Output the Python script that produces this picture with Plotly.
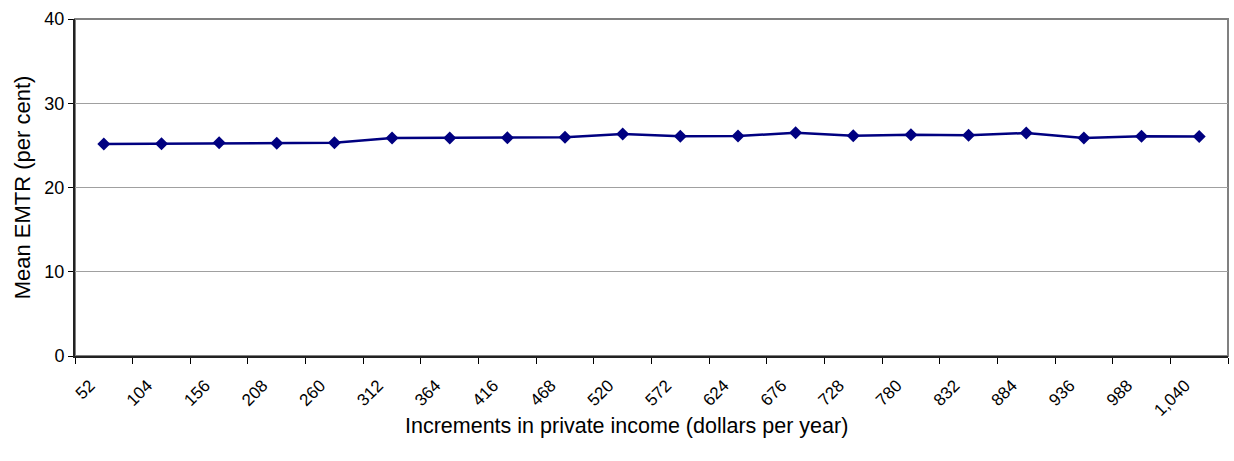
import plotly.graph_objects as go

# Increments in private income (dollars per year)
increments = ["52", "104", "156", "208", "260", "312", "364", "416", "468", "520",
              "572", "624", "676", "728", "780", "832", "884", "936", "988", "1,040"]

# Mean effective marginal tax rate (per cent)
mean_emtr = [25.17, 25.20, 25.30, 25.25, 25.30, 25.88, 25.88, 25.90, 25.96, 26.35,
             26.08, 26.10, 26.50, 26.15, 26.27, 26.20, 26.47, 25.88, 26.08, 26.04]

y_ticks = [0, 10, 20, 30, 40]

FONT = "Liberation Sans, Arial, sans-serif"

fig = go.Figure()
fig.add_trace(go.Scatter(
    x=increments,
    y=mean_emtr,
    mode="lines+markers",
    line=dict(color="#000080", width=2.5),
    marker=dict(symbol="diamond", size=10, color="#000080"),
    showlegend=False,
))

fig.update_layout(
    width=1234,
    height=461,
    margin=dict(l=75, r=6, t=19, b=105),
    paper_bgcolor="white",
    plot_bgcolor="white",
    font=dict(family=FONT, color="black", size=17),
    shapes=[dict(
        type="rect", xref="paper", yref="paper", x0=0, x1=1, y0=0, y1=1,
        line=dict(color="#808080", width=2), layer="below",
    )],
    annotations=[dict(
        text="Increments in private income (dollars per year)",
        xref="paper", yref="paper", x=0.478, y=-0.208,
        xanchor="center", yanchor="middle", showarrow=False,
        font=dict(size=21.5),
    )],
)

fig.update_xaxes(
    type="category",
    range=[-0.5, len(increments) - 0.5],
    tickson="boundaries",
    ticks="outside",
    ticklen=6,
    tickwidth=1,
    tickcolor="black",
    tickangle=-45,
    tickfont=dict(size=17),
    ticklabelshift=-14,
    ticklabelstandoff=11,
    showline=True,
    linecolor="#222222",
    linewidth=2,
    showgrid=False,
    zeroline=False,
)

fig.update_yaxes(
    range=[0, 40],
    tickvals=y_ticks,
    ticks="outside",
    ticklen=5,
    tickwidth=1,
    tickcolor="black",
    tickfont=dict(size=18),
    showline=True,
    linecolor="#222222",
    linewidth=2,
    showgrid=True,
    gridcolor="#a0a0a0",
    gridwidth=1,
    zeroline=False,
    title=dict(text="Mean EMTR (per cent)", font=dict(size=22), standoff=8),
)

fig.write_html("out.html")
